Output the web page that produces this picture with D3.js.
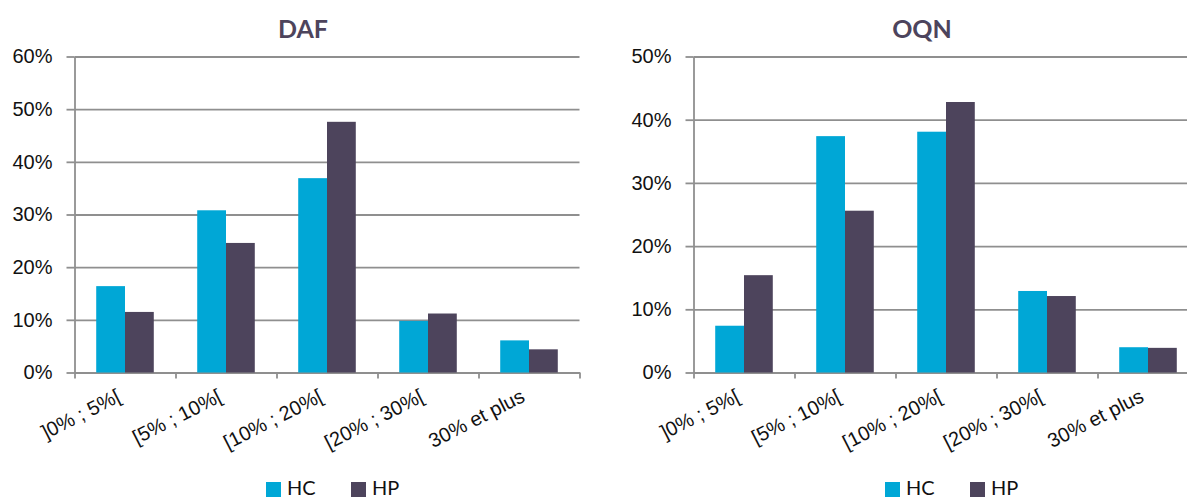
<!DOCTYPE html>
<html>
<head>
<meta charset="utf-8">
<script src="https://cdn.jsdelivr.net/npm/d3@7"></script>
<style>
  body { margin: 0; background: #fff; }
  svg { display: block; font-family: Lato, "Open Sans", sans-serif; }
  .grid line { stroke: #8f8f8f; stroke-width: 1.8; }
  .grid path { display: none; }
  .axis path, .axis line { stroke: #8f8f8f; stroke-width: 1.8; }
  .axis text { fill: #111; }
</style>
</head>
<body>
<script>
// categories and series (share of total, in %)
var categories = ["]0% ; 5%[", "[5% ; 10%[", "[10% ; 20%[", "[20% ; 30%[", "30% et plus"];
var seriesNames = ["HC", "HP"];
var colors = { HC: "#00a7d6", HP: "#4d445c" };

var dafHC = [16.4, 30.8, 36.9, 9.8, 6.1];
var dafHP = [11.5, 24.6, 47.6, 11.2, 4.4];
var oqnHC = [7.4, 37.4, 38.1, 12.9, 4.0];
var oqnHP = [15.4, 25.6, 42.8, 12.1, 3.9];

var dafTicks = [0, 10, 20, 30, 40, 50, 60];
var oqnTicks = [0, 10, 20, 30, 40, 50];

var svg = d3.select("body").append("svg")
  .attr("width", 1187)
  .attr("height", 499);

var plotTop = 56.5, plotBottom = 372.5, plotWidth = 505;

function drawChart(ox, title, hc, hp, ticks) {
  var g = svg.append("g").attr("transform", "translate(" + (ox + 74.5) + ",0)");

  var y = d3.scaleLinear()
    .domain([0, d3.max(ticks)])
    .range([plotBottom, plotTop]);

  var x0 = d3.scaleBand()
    .domain(categories)
    .range([0, plotWidth])
    .paddingInner(0.43)
    .paddingOuter(0.215);

  var x1 = d3.scaleBand()
    .domain(seriesNames)
    .range([0, x0.bandwidth()]);

  // gridlines
  g.append("g")
    .attr("class", "grid")
    .call(d3.axisLeft(y).tickValues(ticks).tickSize(-plotWidth).tickFormat(""));

  // y axis
  g.append("g")
    .attr("class", "axis axis--y")
    .call(d3.axisLeft(y).tickValues(ticks).tickSize(8).tickSizeOuter(0).tickPadding(14)
      .tickFormat(function(d) { return d + "%"; }))
    .selectAll("text")
    .style("font-size", "20px");

  // x axis: tick marks between categories
  var xl = d3.scaleLinear().domain([0, categories.length]).range([0, plotWidth]);
  g.append("g")
    .attr("class", "axis axis--x")
    .attr("transform", "translate(0," + plotBottom + ")")
    .call(d3.axisBottom(xl).tickValues(d3.range(categories.length + 1)).tickSize(6)
      .tickSizeOuter(0).tickFormat(""));

  // category labels
  g.append("g")
    .attr("class", "axis axis--labels")
    .attr("transform", "translate(0," + plotBottom + ")")
    .call(d3.axisBottom(x0).tickSize(0).tickSizeOuter(0))
    .call(function(a) { a.select(".domain").remove(); })
    .selectAll("text")
    .style("font-size", "20px")
    .attr("text-anchor", "end")
    .attr("x", 0).attr("y", 0).attr("dy", "0.35em")
    .attr("transform", "translate(-6,22) rotate(-27)");

  // bars
  var rows = categories.map(function(c, i) { return { cat: c, HC: hc[i], HP: hp[i] }; });
  g.append("g").selectAll("g")
    .data(rows)
    .enter().append("g")
    .attr("transform", function(d) { return "translate(" + x0(d.cat) + ",0)"; })
    .selectAll("rect")
    .data(function(d) { return seriesNames.map(function(k) { return { key: k, value: d[k] }; }); })
    .enter().append("rect")
    .attr("x", function(d) { return x1(d.key); })
    .attr("y", function(d) { return y(d.value); })
    .attr("width", x1.bandwidth())
    .attr("height", function(d) { return plotBottom - y(d.value); })
    .attr("fill", function(d) { return colors[d.key]; });

  // title
  svg.append("text")
    .attr("x", ox + 303)
    .attr("y", 38)
    .attr("text-anchor", "middle")
    .style("font-size", "25px")
    .style("font-weight", "bold")
    .attr("fill", "#4d445c")
    .text(title);

  // legend
  var legX = [266, 351];
  seriesNames.forEach(function(k, i) {
    svg.append("rect")
      .attr("x", ox + legX[i]).attr("y", 482)
      .attr("width", 15).attr("height", 15)
      .attr("fill", colors[k]);
    svg.append("text")
      .attr("x", ox + legX[i] + 21).attr("y", 495)
      .style("font-size", "20px")
      .attr("fill", "#111")
      .text(k);
  });
}

drawChart(0, "DAF", dafHC, dafHP, dafTicks);
drawChart(619, "OQN", oqnHC, oqnHP, oqnTicks);
</script>
</body>
</html>
